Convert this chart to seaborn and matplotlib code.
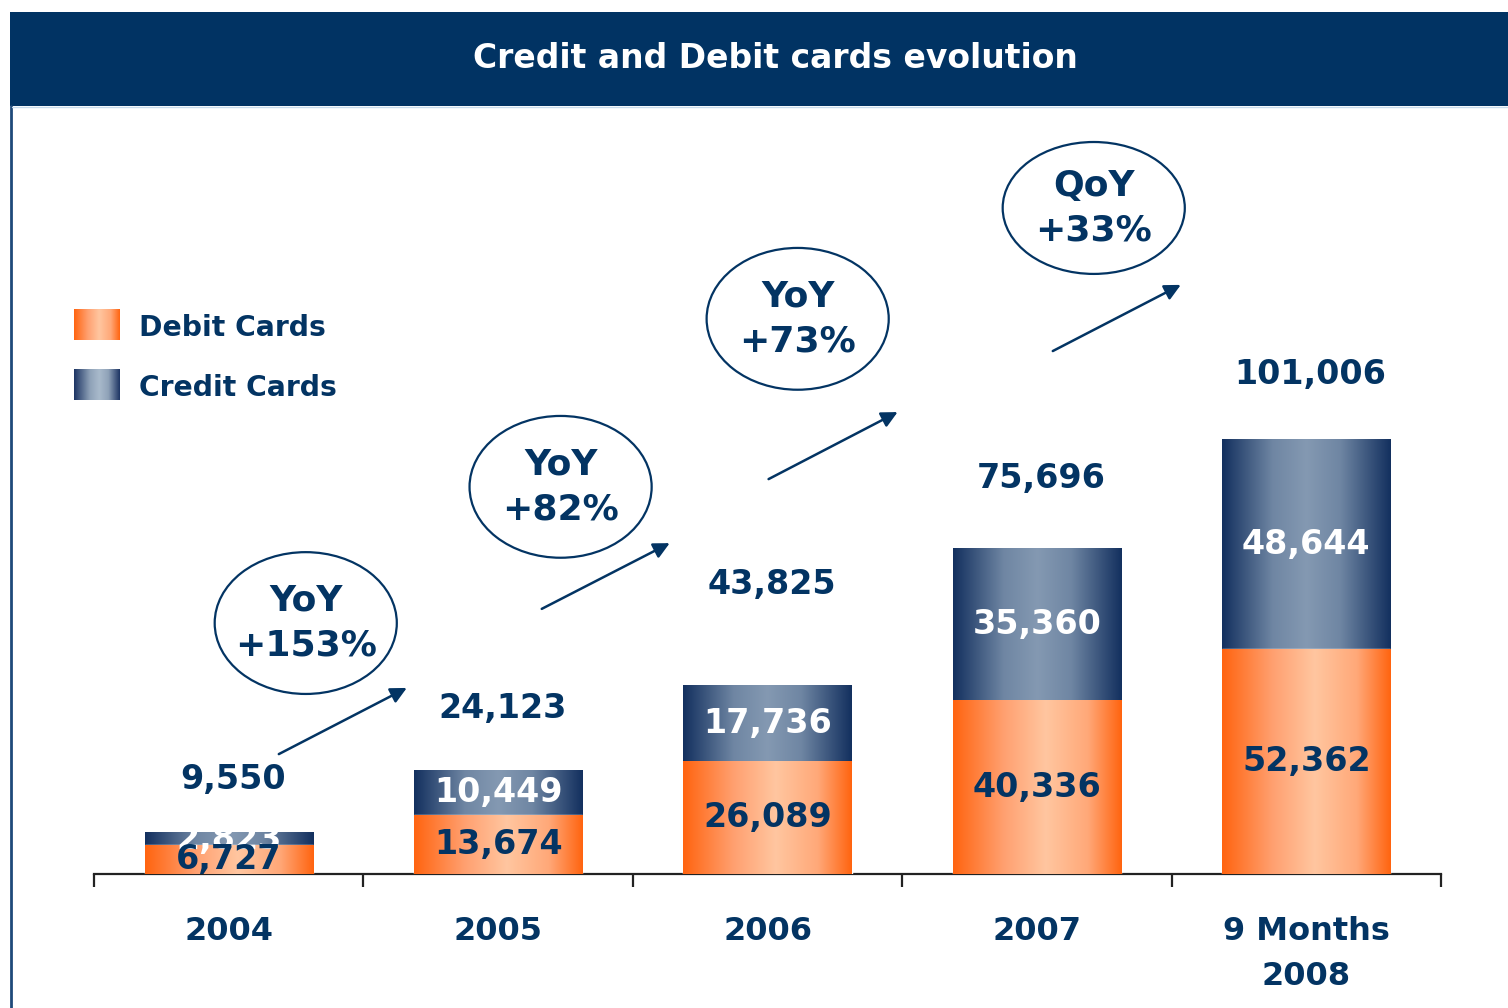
import matplotlib
matplotlib.use("Agg")
import matplotlib.pyplot as plt
import numpy as np
import seaborn as sns
from matplotlib.colors import LinearSegmentedColormap
from matplotlib.patches import Ellipse, Rectangle
from matplotlib.lines import Line2D

# data
periods = ["2004", "2005", "2006", "2007", "9 Months\n2008"]
debit_cards = [6727, 13674, 26089, 40336, 52362]
credit_cards = [2823, 10449, 17736, 35360, 48644]
totals = [9550, 24123, 43825, 75696, 101006]
growth_labels = ["YoY\n+153%", "YoY\n+82%", "YoY\n+73%", "QoY\n+33%"]

NAVY = "#033463"
ORANGE = "#FF6A14"

# layout of annotations (category units, card counts)
ellipse_pos = [(0.286, 58400), (1.232, 90100), (2.112, 129200), (3.211, 155000)]
ellipse_h = [33000, 33000, 33000, 30700]
arrow_pos = [((0.186, 27900), (0.661, 43300)),
             ((1.162, 61700), (1.637, 77000)),
             ((2.004, 91900), (2.483, 107500)),
             ((3.059, 121700), (3.534, 137100))]
total_offsets = [53, 62, 101, 70, 65]  # px above bar top

orange_cmap = LinearSegmentedColormap.from_list(
    "org", [(0, "#FF6410"), (0.3, "#FFA070"), (0.55, "#FFC6A0"), (0.8, "#FFA878"), (1, "#FF6410")])
navy_cmap = LinearSegmentedColormap.from_list(
    "nav", [(0, "#13305F"), (0.3, "#6F86A3"), (0.5, "#8499B2"), (0.7, "#6F86A3"), (1, "#13305F")])
legend_navy = LinearSegmentedColormap.from_list(
    "navl", [(0, "#1C3463"), (0.35, "#8FA2B8"), (0.55, "#A9BACB"), (0.75, "#8FA2B8"), (1, "#1C3463")])
grad = np.linspace(0, 1, 256).reshape(1, -1)

sns.set_theme(style="white")
plt.rcParams["font.family"] = ["DejaVu Sans"]

W, H = 1508, 1008
fig = plt.figure(figsize=(W / 100, H / 100), dpi=100)

# header band + frame
fig.patches.append(Rectangle((10 / W, 1 - 106 / H), 1 - 10 / W, 94 / H,
                             transform=fig.transFigure, facecolor="#013363",
                             edgecolor="none", zorder=0))
fig.lines.append(Line2D([11 / W, 11 / W], [0, 1 - 106 / H], transform=fig.transFigure,
                        color="#1F4A7A", lw=2))
fig.lines.append(Line2D([12 / W, 1], [1 - 107 / H, 1 - 107 / H], transform=fig.transFigure,
                        color="#C8DCEC", lw=1))
fig.text(775 / W, 1 - 59 / H, "Credit and Debit cards evolution", color="white",
         fontsize=23.8, fontweight="bold", ha="center", va="center")

px_per_unit = 4.297 / 1000
ax_bottom = 874
ax_top = 110
ymax = (ax_bottom - ax_top) / px_per_unit
ax = fig.add_axes([94 / W, 1 - ax_bottom / H, (1441 - 94) / W, (ax_bottom - ax_top) / H])
ax.set_facecolor("none")

sns.barplot(x=periods, y=totals, color=NAVY, width=0.624, saturation=1, ax=ax, zorder=2)
sns.barplot(x=periods, y=debit_cards, color=ORANGE, width=0.624, saturation=1, ax=ax, zorder=3)

# gradient fill on each bar
for cont, cmap, z in [(ax.containers[0], navy_cmap, 2.5), (ax.containers[1], orange_cmap, 3.5)]:
    for bar in cont:
        x0, y0 = bar.get_xy()
        w, h = bar.get_width(), bar.get_height()
        ax.imshow(grad, extent=[x0, x0 + w, y0, y0 + h], aspect="auto", cmap=cmap,
                  zorder=z, interpolation="bilinear")

ax.set_xlim(-0.5, 4.5)
ax.set_ylim(0, ymax)

# labels
for i in range(len(periods)):
    ax.text(i, debit_cards[i] + credit_cards[i] / 2, f"{credit_cards[i]:,}", color="white",
            fontsize=24, fontweight="bold", ha="center", va="center", zorder=6)
    ax.text(i, debit_cards[i] / 2, f"{debit_cards[i]:,}", color=NAVY,
            fontsize=24, fontweight="bold", ha="center", va="center", zorder=7)
    ax.text(i + 0.015, totals[i] + total_offsets[i] / px_per_unit, f"{totals[i]:,}",
            color=NAVY, fontsize=24, fontweight="bold", ha="center", va="center", zorder=6)

# growth bubbles and arrows
for (cx, cy), eh, lab in zip(ellipse_pos, ellipse_h, growth_labels):
    ax.add_patch(Ellipse((cx, cy), 0.676, eh, facecolor="none", edgecolor=NAVY, lw=1.6, zorder=6))
    ax.text(cx, cy, lab, color=NAVY, fontsize=26, fontweight="bold", ha="center",
            va="center", linespacing=1.4, zorder=6)
for (p0, p1) in arrow_pos:
    ax.annotate("", xy=p1, xytext=p0,
                arrowprops=dict(arrowstyle="-|>", color=NAVY, lw=1.8, mutation_scale=24,
                                shrinkA=0, shrinkB=0), zorder=6)

# axis styling
for s in ["top", "left", "right"]:
    ax.spines[s].set_visible(False)
ax.spines["bottom"].set_color("#222222")
ax.spines["bottom"].set_linewidth(1.6)
ax.set_yticks([])
ax.set_xticks(np.arange(-0.5, 5, 1), minor=True)
ax.tick_params(axis="x", which="minor", length=9, width=1.6, color="#222222", direction="out", bottom=True)
ax.tick_params(axis="x", which="major", length=0, pad=30)
ax.set_xlabel("")
ax.set_ylabel("")
for t in ax.get_xticklabels():
    t.set_fontsize(23)
    t.set_fontweight("bold")
    t.set_color(NAVY)
    t.set_linespacing(1.6)
    t.set_verticalalignment("top")

# legend with gradient swatches
for ytop, cmap, lab in [(309, orange_cmap, "Debit Cards"), (369, legend_navy, "Credit Cards")]:
    sw = fig.add_axes([74 / W, 1 - (ytop + 31) / H, 46 / W, 31 / H])
    sw.imshow(grad, aspect="auto", cmap=cmap, interpolation="bilinear")
    sw.axis("off")
    fig.text(139 / W, 1 - (ytop + 19) / H, lab, color=NAVY, fontsize=20.3,
             fontweight="bold", ha="left", va="center")

fig.savefig("out.png", dpi=100, facecolor="white")
